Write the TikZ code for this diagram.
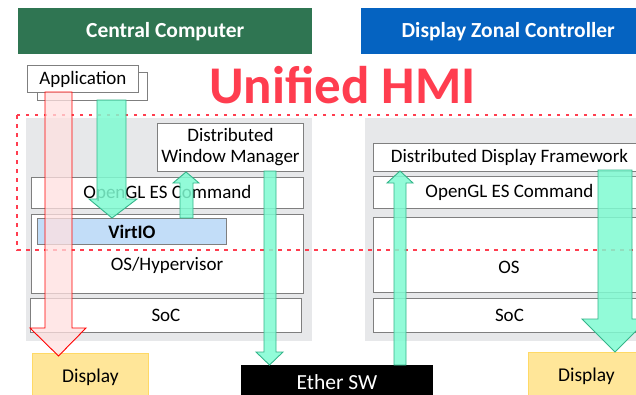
\documentclass[tikz,border=0pt]{standalone}
\usepackage{fontspec}
\setmainfont{Carlito}
\usepackage{xcolor}
\usetikzlibrary{positioning}

\definecolor{ccgreen}{HTML}{2F7552}
\definecolor{dzblue}{HTML}{0563C1}
\definecolor{hmired}{HTML}{FF3D4F}
\definecolor{panelgray}{HTML}{E7E8EA}
\definecolor{boxgray}{HTML}{7F7F7F}
\definecolor{virtblue}{HTML}{C2DDF8}
\definecolor{dispyellow}{HTML}{FFE699}
\definecolor{dispedge}{HTML}{FFD966}
\definecolor{mint}{HTML}{7FFBD2}
\definecolor{mintedge}{HTML}{34B58A}

\begin{document}
\begin{tikzpicture}[x=1pt, y=-1pt,
  hdr/.style={anchor=north west, minimum height=46pt, inner sep=0pt, text=white, font=\fontsize{21.5}{24}\selectfont\bfseries},
  lay/.style={anchor=north west, draw=boxgray, fill=white, line width=0.9pt, inner sep=0pt, font=\fontsize{19}{22}\selectfont},
  lbl/.style={inner sep=0pt, font=\fontsize{19}{22}\selectfont},
  disp/.style={lay, draw=dispedge, fill=dispyellow, font=\fontsize{19.5}{22}\selectfont},
  garr/.style={draw=mintedge, fill=mint, fill opacity=0.85, line width=0.9pt, line join=miter},
  rarr/.style={draw=red, fill=red!12, fill opacity=0.75, line width=0.9pt, line join=miter},
  hmi/.style={draw=hmired, line width=2.8pt, dash pattern=on 3.5pt off 5.5pt}
]
\useasboundingbox (0,0) rectangle (636,394);
\clip (0,0) rectangle (636,394);

\node[hdr, fill=ccgreen, minimum width=294pt] (cc) at (18,8) {Central Computer};
\node[hdr, fill=dzblue, minimum width=294pt] (dzc) at (361,8) {Display Zonal Controller};

\node[anchor=base, text=hmired, inner sep=0pt, font=\fontsize{53}{58}\selectfont\bfseries] (title) at (342.5,103) {Unified HMI};

\fill[panelgray] (26,118) rectangle (312,341);
\fill[panelgray] (365,118) rectangle (660,341);

\node[lay, minimum width=110pt, minimum height=28pt] (appback) at (37,72) {};
\node[lay, minimum width=111pt, minimum height=27pt] (app) at (27,65) {Application};

\node[lay, minimum width=146pt, minimum height=48pt, align=center] (dwm) at (157,123) {Distributed\\[-1pt]Window Manager};
\node[lay, minimum width=272pt, minimum height=31pt] (oglL) at (31,177) {OpenGL ES Command};
\node[lay, minimum width=272pt, minimum height=79pt] (osL) at (31,214) {};
\node[lbl] (osLt) at (167,265) {OS/Hypervisor};
\node[lay, fill=virtblue, minimum width=189pt, minimum height=26pt, font=\fontsize{19}{22}\selectfont\bfseries] (virtio) at (37,218) {VirtIO};
\node[lay, minimum width=271pt, minimum height=34pt] (socL) at (30,298) {SoC};
\node[disp, minimum width=116pt, minimum height=48pt] (dispL) at (32,353) {Display};
\node[lay, draw=black, fill=black, text=white, minimum width=191pt, minimum height=33pt, font=\fontsize{21.5}{24}\selectfont] (ether) at (241,365) {Ether SW};

\node[lay, minimum width=272pt, minimum height=28pt] (ddf) at (373,143) {Distributed Display Framework};
\node[lay, minimum width=272pt, minimum height=32pt] (oglR) at (373,176) {OpenGL ES Command};
\node[lay, minimum width=272pt, minimum height=75pt] (osR) at (373,217) {};
\node[lbl] (osRt) at (509,267) {OS};
\node[lay, minimum width=272pt, minimum height=34pt] (socR) at (373,298) {SoC};
\node[disp, minimum width=116pt, minimum height=48pt] (dispR) at (528,352) {Display};

\draw[hmi] (17,115) rectangle (680,250);

\draw[rarr] (45,92) -- (72,92) -- (72,328) -- (86,328) -- (58.5,356) -- (30,328) -- (45,328) -- cycle;
\draw[garr] (97,100) -- (126,100) -- (126,199) -- (137,199) -- (112,218) -- (89,199) -- (97,199) -- cycle;
\draw[garr] (180,218) -- (180,183) -- (173,183) -- (186,172) -- (199,183) -- (193,183) -- (193,218) -- cycle;
\draw[garr] (264,171) -- (276,171) -- (276,352) -- (283,352) -- (269.5,365) -- (256,352) -- (264,352) -- cycle;
\draw[garr] (394,365) -- (394,183) -- (387,183) -- (400,171) -- (413,183) -- (406,183) -- (406,365) -- cycle;
\draw[garr] (598,170) -- (632,170) -- (632,319) -- (648,319) -- (615,352) -- (582,319) -- (598,319) -- cycle;
\end{tikzpicture}
\end{document}
